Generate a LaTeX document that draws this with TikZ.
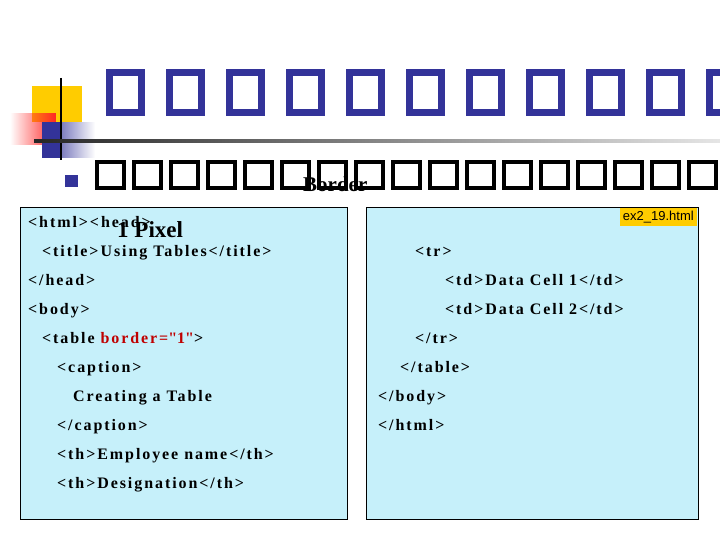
\documentclass[tikz,border=0pt]{standalone}
\usepackage{fontspec}
\setmainfont{Liberation Serif}
\newfontfamily\sansf{Liberation Sans}
\newfontfamily\codef[LetterSpace=12]{Liberation Serif}
\usetikzlibrary{fadings}
\definecolor{tblue}{HTML}{333399}
\definecolor{lblue}{HTML}{C6F0FA}
\definecolor{lorange}{HTML}{FFCC00}
\begin{document}
\begin{tikzpicture}[x=1pt,y=-1pt,
  code/.style={anchor=base west,inner sep=0pt,font=\codef\bfseries\fontsize{16}{18}\selectfont},
  panel/.style={draw=black,fill=lblue,line width=0.8pt}]
\useasboundingbox (0,0) rectangle (720,540);
% decoration
\fill[lorange] (32,86) rectangle (82,122);
\fill[tblue,path fading=east] (42,122) rectangle (95,158);
\fill[red!85,path fading=west] (10,113) rectangle (56,145);
\fill[tblue] (42,122) rectangle (60,158);
\draw[line width=2pt] (61,78) -- (61,160);
\shade[left color=black!85,right color=black!10] (34,139.5) rectangle (720,142.5);
% title boxes
\foreach \i in {0,...,10}{
  \draw[tblue,line width=7pt] (109+60*\i,73) rectangle (141+60*\i,113);}
% bullet
\fill[tblue] (65,175) rectangle (78,187);
\foreach \i in {0,...,16}{
  \draw[black,line width=3.5pt] (97+37*\i,162) rectangle (124+37*\i,188);}
\node[anchor=base west,inner sep=0pt,font=\bfseries\fontsize{21}{23}\selectfont] (bd) at (303,192) {Border};
% panels
\node[panel,minimum width=327pt,minimum height=312pt,anchor=north west,inner sep=0pt] (lp) at (20,207) {};
\node[panel,minimum width=332pt,minimum height=312pt,anchor=north west,inner sep=0pt] (rp) at (366,207) {};
\node[fill=lorange,anchor=north east,inner sep=3pt,font=\sansf\fontsize{13}{15}\selectfont] (fn) at (697,208) {ex2\_19.html};
% left code
\node[code] (l1) at (28,227) {<html><head>};
\node[anchor=base west,inner sep=0pt,font=\bfseries\fontsize{23}{25}\selectfont] (px) at (117,237) {1 Pixel};
\node[code] (l2) at (42,256) {<title>Using Tables</title>};
\node[code] (l3) at (28,285) {</head>};
\node[code] (l4) at (28,314) {<body>};
\node[code] (l5) at (42,343) {<table {\color{red!75!black}border=\textquotedbl 1\textquotedbl}>};
\node[code] (l6) at (57,372) {<caption>};
\node[code] (l7) at (73,401) {Creating a Table};
\node[code] (l8) at (57,430) {</caption>};
\node[code] (l9) at (57,459) {<th>Employee name</th>};
\node[code] (l10) at (57,488) {<th>Designation</th>};
% right code
\node[code] (r1) at (415,256) {<tr>};
\node[code] (r2) at (445,285) {<td>Data Cell 1</td>};
\node[code] (r3) at (445,314) {<td>Data Cell 2</td>};
\node[code] (r4) at (415,343) {</tr>};
\node[code] (r5) at (400,372) {</table>};
\node[code] (r6) at (378,401) {</body>};
\node[code] (r7) at (378,430) {</html>};
\end{tikzpicture}
\end{document}
